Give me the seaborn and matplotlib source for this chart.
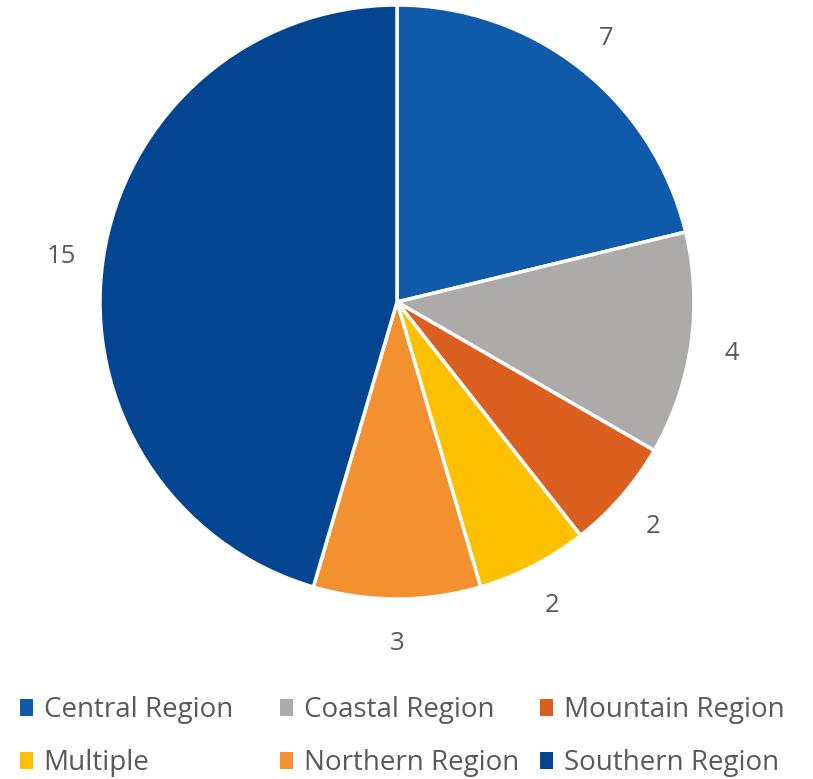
import matplotlib
matplotlib.use('Agg')
import matplotlib.pyplot as plt
import seaborn as sns
from matplotlib.patches import Patch

# data
regions = ['Central Region', 'Coastal Region', 'Mountain Region',
           'Multiple', 'Northern Region', 'Southern Region']
counts = [7, 4, 2, 2, 3, 15]
colors = ['#0F5BAA', '#ADAAAA', '#DB5F1E', '#FFC000', '#F39131', '#034591']

sns.set_style('white')
plt.rcParams['font.family'] = ['Open Sans', 'DejaVu Sans']
text_color = '#595959'

fig = plt.figure(figsize=(8.13, 7.79), dpi=100)
ax = fig.add_axes([100 / 813, 1 - 599 / 779, 594 / 813, 594 / 779])

wedges, texts = ax.pie(counts, colors=colors, labels=[str(c) for c in counts],
                       startangle=90, counterclock=False, radius=1,
                       labeldistance=1.14,
                       wedgeprops=dict(edgecolor='white', linewidth=2.5),
                       textprops=dict(fontsize=18.5, color=text_color))
for t in texts:
    t.set_ha('center')
    t.set_va('center_baseline')
ax.set_xlim(-1, 1)
ax.set_ylim(-1, 1)
ax.set_aspect('equal')

# legend: three columns at fixed spacing, two rows each
col_x = [20 / 813, 280 / 813, 540 / 813]
for c in range(3):
    idx = [c, c + 3]
    handles = [Patch(facecolor=colors[i], edgecolor='none', label=regions[i]) for i in idx]
    leg = fig.legend(handles=handles, loc='lower left',
                     bbox_to_anchor=(col_x[c], 2 / 779),
                     frameon=False, fontsize=20, handlelength=0.45,
                     handleheight=0.55, handletextpad=0.4,
                     labelspacing=0.9, borderpad=0, borderaxespad=0)
    for t in leg.get_texts():
        t.set_color(text_color)

fig.savefig('out.png', dpi=100)
